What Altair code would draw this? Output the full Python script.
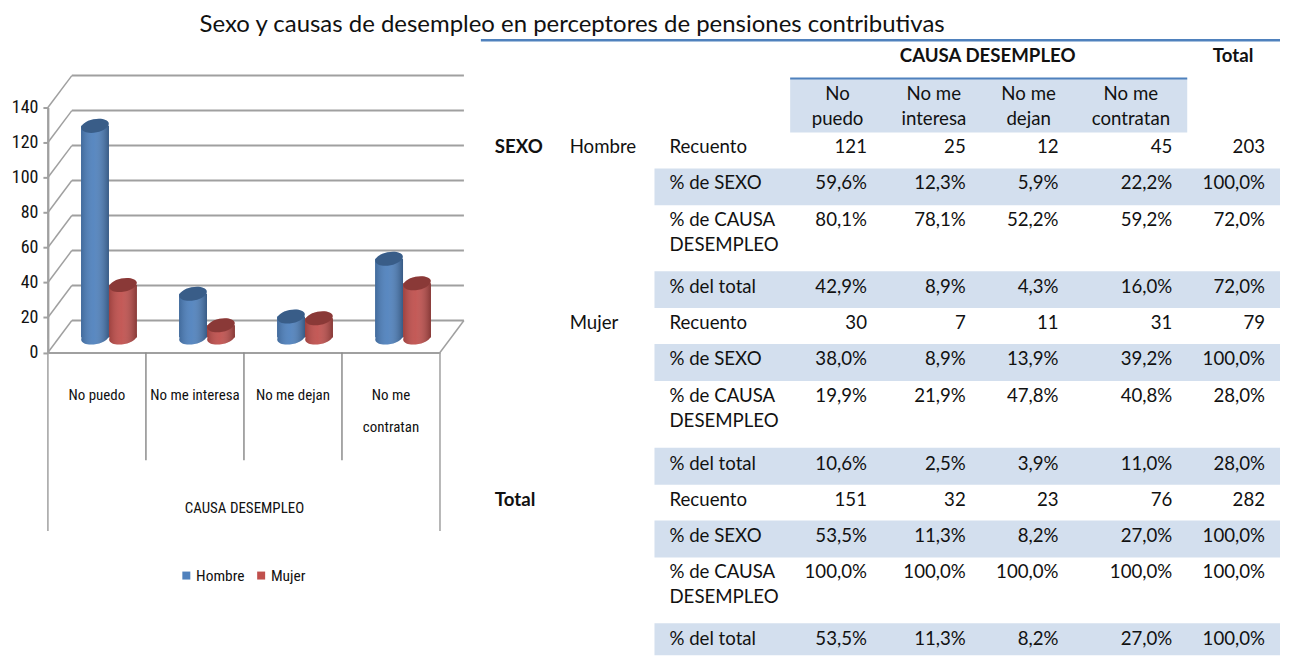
import altair as alt
import pandas as pd

# ---- chart values
CAUSAS = ["No puedo", "No me interesa", "No me dejan", "No me contratan"]
SEXOS = ["Hombre", "Mujer"]
HOMBRE = [121, 25, 12, 45]
MUJER = [30, 7, 11, 31]
TICKS = [0, 20, 40, 60, 80, 100, 120, 140]
TITLE = "Sexo y causas de desempleo en perceptores de pensiones contributivas"
AXIS_TITLE = "CAUSA DESEMPLEO"

# ---- table values
HEAD_GROUP = "CAUSA DESEMPLEO"
HEAD_TOTAL = "Total"
HEAD_COLS = [["No", "puedo"], ["No me", "interesa"], ["No me", "dejan"], ["No me", "contratan"]]
MEASURES = [["Recuento"], ["% de SEXO"], ["% de CAUSA", "DESEMPLEO"], ["% del total"]]
SEX_LABELS = ["Hombre", "Mujer", None]
H_REC = ["121", "25", "12", "45", "203"]
H_SEX = ["59,6%", "12,3%", "5,9%", "22,2%", "100,0%"]
H_CAU = ["80,1%", "78,1%", "52,2%", "59,2%", "72,0%"]
H_TOT = ["42,9%", "8,9%", "4,3%", "16,0%", "72,0%"]
M_REC = ["30", "7", "11", "31", "79"]
M_SEX = ["38,0%", "8,9%", "13,9%", "39,2%", "100,0%"]
M_CAU = ["19,9%", "21,9%", "47,8%", "40,8%", "28,0%"]
M_TOT = ["10,6%", "2,5%", "3,9%", "11,0%", "28,0%"]
T_REC = ["151", "32", "23", "76", "282"]
T_SEX = ["53,5%", "11,3%", "8,2%", "27,0%", "100,0%"]
T_CAU = ["100,0%", "100,0%", "100,0%", "100,0%", "100,0%"]
T_TOT = ["53,5%", "11,3%", "8,2%", "27,0%", "100,0%"]
ROWS = [H_REC, H_SEX, H_CAU, H_TOT, M_REC, M_SEX, M_CAU, M_TOT, T_REC, T_SEX, T_CAU, T_TOT]

# ---- layout of the table (in the table panel's own scale)
ROW_EDGES = [132, 168, 205, 271, 308, 344, 381, 448, 485, 521, 558, 624, 656]
COL_EDGES = [790, 885, 983, 1075, 1188, 1281]
NUM_RIGHT = [867, 966, 1059, 1173, 1266]
LINE = 25

BLUE, RED = "#4f81bd", "#c0504d"
GRID = "#a0a0a0"
TXT = "#111111"
NARROW = "Roboto Condensed"
FONT = "Lato"
FS = 18.7

# ---- left panel
bars = pd.DataFrame(
    [{"causa": c, "sexo": "Hombre", "n": v} for c, v in zip(CAUSAS, HOMBRE)]
    + [{"causa": c, "sexo": "Mujer", "n": v} for c, v in zip(CAUSAS, MUJER)]
)
ticks_df = pd.DataFrame({"t": TICKS})
cats_df = pd.DataFrame({"causa": CAUSAS})

H = 617
Y0 = 313.5
YTOP = 68
PW = 393
DX, DY = 24, 32
scale_y = alt.Scale(domain=[0, 140], range=[Y0, YTOP])
PER_UNIT = (Y0 - YTOP) / 140
y_back = DY / PER_UNIT
lift = 15 / PER_UNIT   # cylinders stand part-way back on the floor

x_enc = alt.X(
    "causa:N", sort=CAUSAS,
    scale=alt.Scale(range=[0, PW], paddingInner=0, paddingOuter=0),
    axis=alt.Axis(
        title=AXIS_TITLE, orient="bottom", offset=-(H - Y0), ticks=False, domain=True,
        domainColor=GRID, domainWidth=2, labelAngle=0, labelAlign="center", labelBaseline="top",
        labelFont=NARROW, labelFontSize=15, labelColor=TXT, labelPadding=35, labelLimit=200,
        labelExpr="datum.label == 'No me contratan' ? ['No me','contratan'] : datum.label",
        labelLineHeight=32,
        titleFont=NARROW, titleFontSize=15, titleFontWeight="normal", titleColor=TXT, titleY=148,
    ),
)
xo_enc = alt.XOffset("sexo:N", sort=SEXOS, scale=alt.Scale(paddingInner=0, paddingOuter=0.754, align=0.786))
y_axis = alt.Axis(
    title=None, values=TICKS, grid=False, domain=True, domainColor=GRID, domainWidth=2,
    tickColor=GRID, tickSize=5, tickWidth=2, labelFont=NARROW, labelFontSize=18, labelColor=TXT,
    labelPadding=5, minExtent=40, maxExtent=40,
)
color_enc = alt.Color(
    "sexo:N", sort=SEXOS, scale=alt.Scale(domain=SEXOS, range=[BLUE, RED]),
    legend=alt.Legend(
        title=None, orient="none", direction="horizontal", legendX=131, legendY=529,
        symbolType="square", symbolSize=64, symbolStrokeWidth=0, labelFont=NARROW, labelFontSize=15.5,
        labelColor=TXT, columnPadding=8, labelOffset=2,
    ),
)

ELLIPSE = "M-0.98,0.2 A1,0.48 -11 0 1 0.98,-0.2 A1,0.48 -11 0 1 -0.98,0.2 Z"
shade = alt.LinearGradient(
    gradient="linear", x1=0, x2=1, y1=0, y2=0,
    stops=[
        alt.GradientStop(color="rgba(0,0,0,0.18)", offset=0),
        alt.GradientStop(color="rgba(255,255,255,0.06)", offset=0.45),
        alt.GradientStop(color="rgba(0,0,0,0.30)", offset=1),
    ],
)

y_t = alt.Y("t:Q", scale=scale_y, axis=y_axis)
grid_back = alt.Chart(ticks_df).mark_rule(color=GRID, size=2, yOffset=-DY).encode(
    x=alt.value(DX), x2=alt.value(PW + DX), y=y_t,
)
diag_left = alt.Chart(ticks_df).transform_calculate(b=f"datum.t + {y_back}").mark_rule(color=GRID, size=1.5).encode(
    x=alt.value(0), x2=alt.value(DX), y=y_t, y2="b:Q",
)
diag_right = alt.Chart(ticks_df[ticks_df.t == 0]).transform_calculate(b=f"datum.t + {y_back}").mark_rule(color=GRID, size=1.5).encode(
    x=alt.value(PW), x2=alt.value(PW + DX), y=y_t, y2="b:Q",
)
seps = alt.Chart(cats_df.iloc[1:]).mark_rule(color="#8c8c8c", size=1.5).encode(
    x=alt.X("causa:N", sort=CAUSAS, bandPosition=0),
    y=alt.value(Y0), y2=alt.value(Y0 + 108),
)
edge_l = alt.Chart(ticks_df.iloc[:1]).mark_rule(color=GRID, size=1.5).encode(
    x=alt.value(0), y=alt.value(YTOP), y2=alt.value(Y0 + 179),
)
edge_r = alt.Chart(ticks_df.iloc[:1]).mark_rule(color=GRID, size=1.5).encode(
    x=alt.value(PW), y=alt.value(Y0), y2=alt.value(Y0 + 179),
)

cyl = alt.Chart(bars).transform_calculate(top=f"datum.n + {lift}", foot=f"{lift}")
y_top = alt.Y("top:Q", scale=scale_y, axis=y_axis)
y_foot = alt.Y("foot:Q", scale=scale_y, axis=y_axis)
pt = dict(shape=ELLIPSE, size=784, filled=True, opacity=1)

base_pts = cyl.mark_point(**pt).encode(x=x_enc, xOffset=xo_enc, y=y_foot, color=color_enc)
base_shade = cyl.mark_point(fill=shade, **pt).encode(x=x_enc, xOffset=xo_enc, y=y_foot)
body = cyl.mark_bar().encode(x=x_enc, xOffset=xo_enc, y=y_top, y2="foot:Q", color=color_enc)
body_shade = cyl.mark_bar(fill=shade).encode(x=x_enc, xOffset=xo_enc, y=y_top, y2="foot:Q")
cap = cyl.mark_point(**pt).encode(x=x_enc, xOffset=xo_enc, y=y_top, color=color_enc)
cap_dark = cyl.mark_point(
    shape=ELLIPSE, size=784, filled=True, opacity=0.28, color="#000000",
).encode(x=x_enc, xOffset=xo_enc, y=y_top)

left = alt.layer(
    grid_back, diag_left, diag_right, seps, edge_l, edge_r,
    base_pts, base_shade, body, body_shade, cap, cap_dark,
).properties(width=432, height=H)

# ---- right panel: the table
sx = alt.Scale(domain=[480, 1281], range=[0, 801])
sy = alt.Scale(domain=[39, 656], range=[0, H])

shaded_rows = pd.DataFrame(
    [{"x": 654, "x2": COL_EDGES[-1], "y": ROW_EDGES[i], "y2": ROW_EDGES[i + 1]} for i in range(1, 12, 2)]
    + [{"x": COL_EDGES[0], "x2": COL_EDGES[4], "y": 78, "y2": ROW_EDGES[0]}]
)
rects = alt.Chart(shaded_rows).mark_rect(color="#d3dfee").encode(
    x=alt.X("x:Q", scale=sx, axis=None), x2="x2:Q",
    y=alt.Y("y:Q", scale=sy, axis=None), y2="y2:Q",
)
rule_df = pd.DataFrame([
    {"x": 480, "x2": 1281, "y": 39.5, "s": 2.5},
    {"x": COL_EDGES[0], "x2": COL_EDGES[4], "y": 78, "s": 2},
])
rules = alt.Chart(rule_df).mark_rule(color=BLUE).encode(
    x=alt.X("x:Q", scale=sx, axis=None), x2="x2:Q",
    y=alt.Y("y:Q", scale=sy, axis=None),
    size=alt.Size("s:Q", scale=None, legend=None),
)

left_txt, right_txt, mid_txt, bold_txt = [], [], [], []
TEXT_DY = 15
for i, row in enumerate(ROWS):
    top = ROW_EDGES[i] + TEXT_DY + (1 if i % 4 == 3 else 0)
    for k, line in enumerate(MEASURES[i % 4]):
        left_txt.append({"x": 669, "y": top + k * LINE, "t": line})
    for j, val in enumerate(row):
        right_txt.append({"x": NUM_RIGHT[j], "y": top, "t": val})
    if i % 4 == 0 and SEX_LABELS[i // 4]:
        left_txt.append({"x": 569, "y": top, "t": SEX_LABELS[i // 4]})
bold_txt.append({"x": 494, "y": ROW_EDGES[0] + TEXT_DY, "t": "SEXO"})
bold_txt.append({"x": 494, "y": ROW_EDGES[8] + TEXT_DY, "t": "Total"})
for j, lines in enumerate(HEAD_COLS):
    cx = (COL_EDGES[j] + COL_EDGES[j + 1]) / 2
    for k, line in enumerate(lines):
        mid_txt.append({"x": cx, "y": 93 + k * 26, "t": line})
head_txt = [{"x": 988, "y": 55, "t": HEAD_GROUP}, {"x": 1234, "y": 55, "t": HEAD_TOTAL}]

def txt(rows, align, weight="normal"):
    return alt.Chart(pd.DataFrame(rows)).mark_text(
        align=align, baseline="middle", font=FONT, fontSize=FS, fontWeight=weight, color=TXT,
    ).encode(
        x=alt.X("x:Q", scale=sx, axis=None),
        y=alt.Y("y:Q", scale=sy, axis=None),
        text="t:N",
    )

right = alt.layer(
    rects, rules,
    txt(left_txt, "left"), txt(right_txt, "right"), txt(mid_txt, "center"),
    txt(bold_txt, "left", "bold"), txt(head_txt, "center", "bold"),
).properties(width=801, height=H)

chart = alt.hconcat(left, right, spacing=0).properties(
    padding={"left": 0, "right": 0, "top": 4, "bottom": 0},
    title=alt.TitleParams(
        TITLE, anchor="start", dx=152, offset=2, font=FONT, fontSize=24, fontWeight="normal", color=TXT,
        frame="group",
    ),
).configure_view(stroke=None)

chart.save("out.html", embed_options={"renderer": "svg", "actions": False})
